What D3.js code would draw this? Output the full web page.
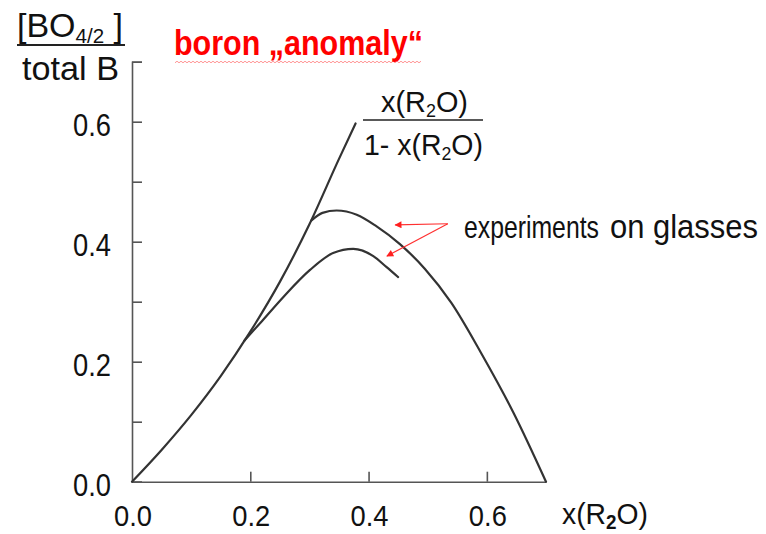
<!DOCTYPE html>
<html>
<head>
<meta charset="utf-8">
<script src="https://cdn.jsdelivr.net/npm/d3@7"></script>
<style>
  html, body { margin: 0; padding: 0; background: #fff; }
  svg { display: block; font-family: "Liberation Sans", Arial, sans-serif; }
</style>
</head>
<body>
<svg id="chart" width="766" height="534"></svg>
<script>
// values
// theoretical curve x/(1-x)
const theoryX = [0, 0.05, 0.1, 0.15, 0.2, 0.25, 0.3, 0.35, 0.378];
const theoryY = [0, 0.053, 0.111, 0.176, 0.25, 0.333, 0.429, 0.538, 0.597];

// experiments on glasses (upper branch)
const upperX = [0.303, 0.322, 0.346, 0.38, 0.413, 0.453, 0.495, 0.54, 0.59, 0.645, 0.70];
const upperY = [0.435, 0.448, 0.452, 0.445, 0.426, 0.396, 0.355, 0.298, 0.215, 0.115, 0];

// experiments on glasses (lower branch)
const lowerX = [0.19, 0.22, 0.256, 0.301, 0.34, 0.374, 0.408, 0.43, 0.45];
const lowerY = [0.235, 0.268, 0.308, 0.353, 0.381, 0.388, 0.376, 0.358, 0.341];

const xTickMarks = [0.2, 0.4, 0.6];
const xTickLabels = ["0.0", "0.2", "0.4", "0.6"];
const yTickMarks = [0, 0.1, 0.2, 0.3, 0.4, 0.5, 0.6, 0.7];
const yTickLabels = ["0.0", "0.2", "0.4", "0.6"];

// arrow from the label to each experimental curve (data coords)
const arrowFrom = [0.534, 0.43];
const arrowTips = [[0.445, 0.428], [0.431, 0.376]];

const svg = d3.select("#chart");

const x = d3.scaleLinear([0, 0.7], [132, 546]);
const y = d3.scaleLinear([0, 0.7], [481.7, 61.7]);

const AXIS_COLOR = "#555";
const CURVE_COLOR = "#333";

// squeeze a text element horizontally so its box starts at `left` and is `width` wide
function fitText(sel, left, width) {
  const bb = sel.node().getBBox();
  const sx = width / bb.width;
  sel.attr("transform", `translate(${left},0) scale(${sx},1) translate(${-bb.x},0)`);
}

// axes
const yAxis = svg.append("g")
    .attr("transform", `translate(${x(0)},0)`)
    .call(d3.axisRight(y).tickValues(yTickMarks).tickSize(10).tickSizeOuter(10).tickFormat(""));

const xAxis = svg.append("g")
    .attr("transform", `translate(0,${y(0)})`)
    .call(d3.axisTop(x).tickValues(xTickMarks).tickSize(10).tickSizeOuter(0).tickFormat(""));

[yAxis, xAxis].forEach(g => {
  g.selectAll("path, line").attr("stroke", AXIS_COLOR).attr("stroke-width", 1.6);
});

// tick labels
yTickLabels.forEach(t => {
  const el = svg.append("text")
      .attr("y", y(+t) + 14)
      .attr("font-size", 32)
      .attr("fill", "#111")
      .text(t);
  fitText(el, 73, 38);
});

xTickLabels.forEach(t => {
  const el = svg.append("text")
      .attr("y", 526)
      .attr("font-size", 30)
      .attr("fill", "#111")
      .text(t);
  fitText(el, x(+t) - 18, 38);
});

// x axis title
const xTitle = svg.append("text")
    .attr("y", 524)
    .attr("font-size", 30)
    .attr("fill", "#111");
xTitle.append("tspan").text("x(R");
xTitle.append("tspan").attr("font-size", 20).attr("dy", 5).attr("font-weight", "bold").text("2");
xTitle.append("tspan").attr("dy", -5).text("O)");
fitText(xTitle, 562, 86);

// y axis title as a fraction
const yNum = svg.append("text")
    .attr("y", 37)
    .attr("font-size", 33)
    .attr("fill", "#111");
yNum.append("tspan").text("[BO");
yNum.append("tspan").attr("font-size", 20).attr("dy", 6).text("4/2");
yNum.append("tspan").attr("dy", -6).text(" ]");
fitText(yNum, 17, 106);

svg.append("line")
    .attr("x1", 17).attr("x2", 125)
    .attr("y1", 45).attr("y2", 45)
    .attr("stroke", "#222").attr("stroke-width", 2);

const yDen = svg.append("text")
    .attr("y", 80)
    .attr("font-size", 33)
    .attr("fill", "#111")
    .text("total B");
fitText(yDen, 22, 97);

// title
const title = svg.append("text")
    .attr("y", 55)
    .attr("font-size", 36)
    .attr("font-weight", "bold")
    .attr("fill", "#ff0000")
    .text("boron \u201Eanomaly\u201C");
fitText(title, 174, 249);

// spell-check style squiggle under the title
const squiggle = d3.range(175, 423, 2).map((px, i) => [px, 62 + (i % 2 ? -0.8 : 0.8)]);
svg.append("path")
    .attr("d", d3.line()(squiggle))
    .attr("fill", "none")
    .attr("stroke", "#ff4040")
    .attr("stroke-width", 0.8)
    .attr("opacity", 0.7);

// curves
const line = d3.line()
    .x(d => x(d[0]))
    .y(d => y(d[1]))
    .curve(d3.curveMonotoneX);

const series = [
  d3.zip(theoryX, theoryY),
  d3.zip(upperX, upperY),
  d3.zip(lowerX, lowerY)
];

svg.append("g")
    .attr("fill", "none")
    .attr("stroke", CURVE_COLOR)
    .attr("stroke-width", 2.2)
    .attr("stroke-linecap", "round")
  .selectAll("path")
  .data(series)
  .join("path")
    .attr("d", line);

// formula label for the theoretical curve
const fNum = svg.append("text")
    .attr("y", 112)
    .attr("font-size", 29)
    .attr("fill", "#111");
fNum.append("tspan").text("x(R");
fNum.append("tspan").attr("font-size", 18).attr("dy", 5).text("2");
fNum.append("tspan").attr("dy", -5).text("O)");
fitText(fNum, 381, 87);

svg.append("line")
    .attr("x1", 363).attr("x2", 483)
    .attr("y1", 120).attr("y2", 120)
    .attr("stroke", "#222").attr("stroke-width", 1.6);

const fDen = svg.append("text")
    .attr("y", 155)
    .attr("font-size", 29)
    .attr("fill", "#111");
fDen.append("tspan").text("1- x(R");
fDen.append("tspan").attr("font-size", 18).attr("dy", 5).text("2");
fDen.append("tspan").attr("dy", -5).text("O)");
fitText(fDen, 364, 119);

// annotation
const exp = svg.append("text")
    .attr("y", 238)
    .attr("font-size", 32)
    .attr("fill", "#111")
    .text("experiments");
fitText(exp, 464, 135);

const glasses = svg.append("text")
    .attr("y", 238)
    .attr("font-size", 34)
    .attr("fill", "#111")
    .text("on glasses");
fitText(glasses, 610, 148);

svg.append("defs").append("marker")
    .attr("id", "arrow")
    .attr("viewBox", "0 0 10 10")
    .attr("refX", 9).attr("refY", 5)
    .attr("markerWidth", 9).attr("markerHeight", 7)
    .attr("markerUnits", "userSpaceOnUse")
    .attr("orient", "auto")
  .append("path")
    .attr("d", "M0,0L10,5L0,10Z")
    .attr("fill", "#ff2020");

svg.append("g")
    .attr("stroke", "#ff3030")
    .attr("stroke-width", 1.1)
  .selectAll("line")
  .data(arrowTips)
  .join("line")
    .attr("x1", x(arrowFrom[0]))
    .attr("y1", y(arrowFrom[1]))
    .attr("x2", d => x(d[0]))
    .attr("y2", d => y(d[1]))
    .attr("marker-end", "url(#arrow)");
</script>
</body>
</html>
